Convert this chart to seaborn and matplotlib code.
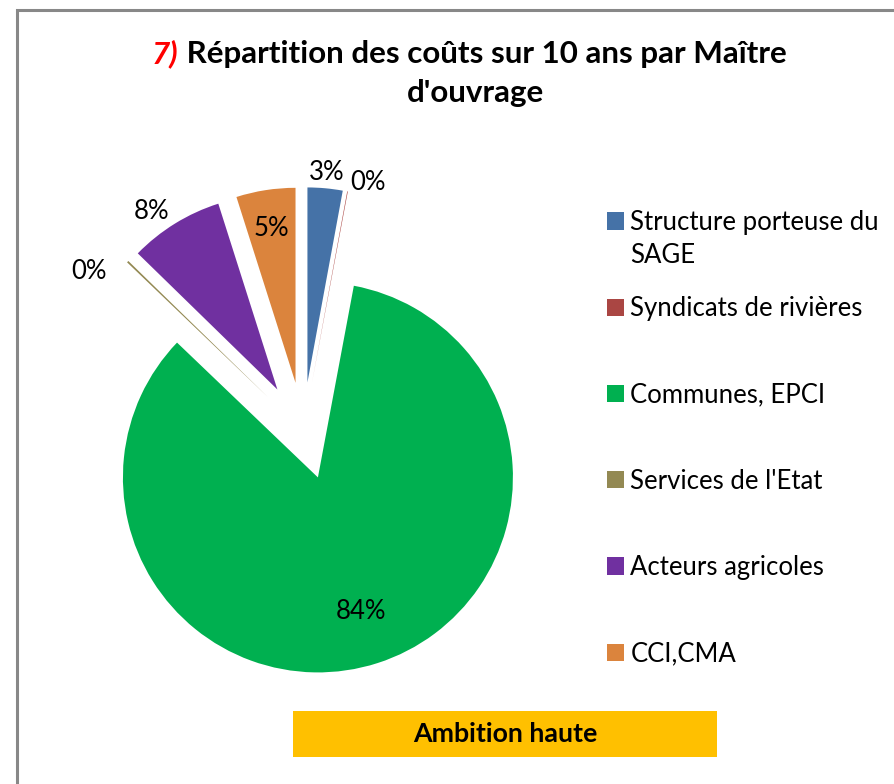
import numpy as np
import seaborn as sns
import matplotlib.pyplot as plt
from matplotlib.patches import Rectangle

# data
legend_labels = ["Structure porteuse du", "Syndicats de rivières", "Communes, EPCI",
                 "Services de l'Etat", "Acteurs agricoles", "CCI,CMA"]
shares = [2.9, 0.05, 84.2, 0.15, 7.8, 4.9]
hex_colors = ["#4572A7", "#AA4643", "#00B050", "#938953", "#7030A0", "#DB843D"]
title_main = " Répartition des coûts sur 10 ans par Maître"
title_num = "7)"
title_line2 = "d'ouvrage"
banner = "Ambition haute"

# label placement: distance from wedge tip (radii) and angle shift (deg, clockwise)
label_dist = [1.08, 1.07, 0.72, 1.12, 1.12, 0.80]
label_shift = [0, 5, 0, -9, -3.5, 0]

sns.set_theme(style="white")
plt.rcParams["font.family"] = ["Lato", "DejaVu Sans"]
palette = sns.color_palette(hex_colors)

W, H = 895, 784
fig = plt.figure(figsize=(W / 100, H / 100), dpi=100)
ax = fig.add_axes([0, 0, 1, 1])

R = 195
cx, cy = 303, H - 431
wedges, _ = ax.pie(shares, colors=palette, startangle=90, counterclock=False,
                   explode=[0.25 * R] * len(shares), radius=R, center=(cx, cy),
                   frame=False, wedgeprops=dict(linewidth=0))
ax.set_xlim(0, W)
ax.set_ylim(0, H)
ax.axis("off")

total = sum(shares)
for w, s, d, sh in zip(wedges, shares, label_dist, label_shift):
    ang = np.deg2rad((w.theta1 + w.theta2) / 2 - sh)
    x0, y0 = w.center
    ax.text(x0 + d * R * np.cos(ang), y0 + d * R * np.sin(ang), f"{100 * s / total:.0f}%",
            ha="center", va="center", fontsize=18.5, color="black")

# title
t7 = fig.text(152 / W, 1 - 63 / H, title_num, color="red", fontstyle="italic",
              fontweight="bold", fontsize=22.6, va="baseline")
ax.annotate(title_main, xy=(1, 0), xycoords=t7, va="bottom", ha="left",
            fontsize=22.6, fontweight="bold", color="black")
fig.text(475 / W, 1 - 102 / H, title_line2, ha="center", va="baseline",
         fontsize=22.6, fontweight="bold", color="black")

# legend
handles = [Rectangle((0, 0), 1, 1, facecolor=c, edgecolor="none") for c in palette]
leg = ax.legend(handles, legend_labels, loc="upper left",
                bbox_to_anchor=(607 / W, 1 - 210 / H), bbox_transform=fig.transFigure,
                frameon=False, fontsize=18.5, handlelength=0.66, handleheight=0.66,
                handletextpad=0.25, labelspacing=2.385, borderpad=0, borderaxespad=0)
for t in leg.get_texts():
    t.set_color("black")
ax.annotate("SAGE", xy=(0, 0), xycoords=leg.get_texts()[0], xytext=(0, -33 * 0.72),
            textcoords="offset points", va="bottom", fontsize=18.5, color="black",
            zorder=10)

# banner
fig.add_artist(Rectangle((293 / W, 1 - 757 / H), 424 / W, 46 / H, facecolor="#FFC000",
                         edgecolor="none", transform=fig.transFigure))
fig.text(505 / W, 1 - 734 / H, banner, ha="center", va="center", fontsize=19.3,
         fontweight="bold", color="black")

# chart frame
fig.add_artist(Rectangle((17 / W, -0.1), 1.2, 1 + 0.1 - 10 / H, fill=False,
                         edgecolor="#888888", linewidth=2.2, transform=fig.transFigure))

fig.savefig("out.png", dpi=100)
